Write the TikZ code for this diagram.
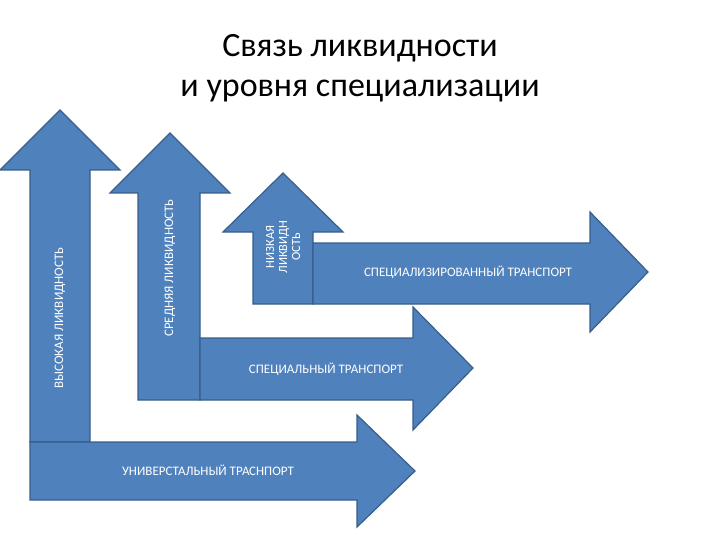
\documentclass[tikz,border=0pt]{standalone}
\usepackage{fontspec}
\setmainfont{Carlito}
\begin{document}
\begin{tikzpicture}[x=1pt,y=-1pt,
  arr/.style={fill={rgb,255:red,79;green,129;blue,189},draw={rgb,255:red,56;green,93;blue,138},line width=1.2pt,line join=miter},
  lbl/.style={text=white,font=\fontsize{13}{14}\selectfont,inner sep=0pt}]
\useasboundingbox (0,0) rectangle (720,540);
\node[font=\fontsize{34}{40}\selectfont,align=center] (title) at (360,68) {Связь ликвидности\\и уровня специализации};
% big up
\draw[arr] (30,442) -- (30,170) -- (0,170) -- (60,110) -- (120,170) -- (90,170) -- (90,442) -- cycle;
\draw[arr] (30,442) -- (357,442) -- (357,415) -- (415,471) -- (357,527) -- (357,500) -- (30,500) -- cycle;
% medium
\draw[arr] (138,400) -- (138,193) -- (110,193) -- (170,133) -- (230,193) -- (200,193) -- (200,400) -- cycle;
\draw[arr] (200,338) -- (413,338) -- (413,307) -- (473,368) -- (413,430) -- (413,400) -- (200,400) -- cycle;
% small
\draw[arr] (253,304) -- (253,232) -- (223,232) -- (283,173) -- (343,232) -- (313,232) -- (313,304) -- cycle;
\draw[arr] (313,243) -- (590,243) -- (590,212) -- (648,272) -- (590,332) -- (590,304) -- (313,304) -- cycle;
% labels
\node[lbl,rotate=90] (hi) at (60,318) {ВЫСОКАЯ ЛИКВИДНОСТЬ};
\node[lbl,rotate=90] (mid) at (170,268) {СРЕДНЯЯ ЛИКВИДНОСТЬ};
\node[lbl,rotate=90,align=center,font=\fontsize{12.5}{13}\selectfont] (lo) at (283,247) {НИЗКАЯ\\ЛИКВИДН\\ОСТЬ};
\node[lbl] (t1) at (468,272) {СПЕЦИАЛИЗИРОВАННЫЙ ТРАНСПОРТ};
\node[lbl] (t2) at (326,369) {СПЕЦИАЛЬНЫЙ ТРАНСПОРТ};
\node[lbl] (t3) at (208,470) {УНИВЕРСТАЛЬНЫЙ ТРАСНПОРТ};
\end{tikzpicture}
\end{document}
